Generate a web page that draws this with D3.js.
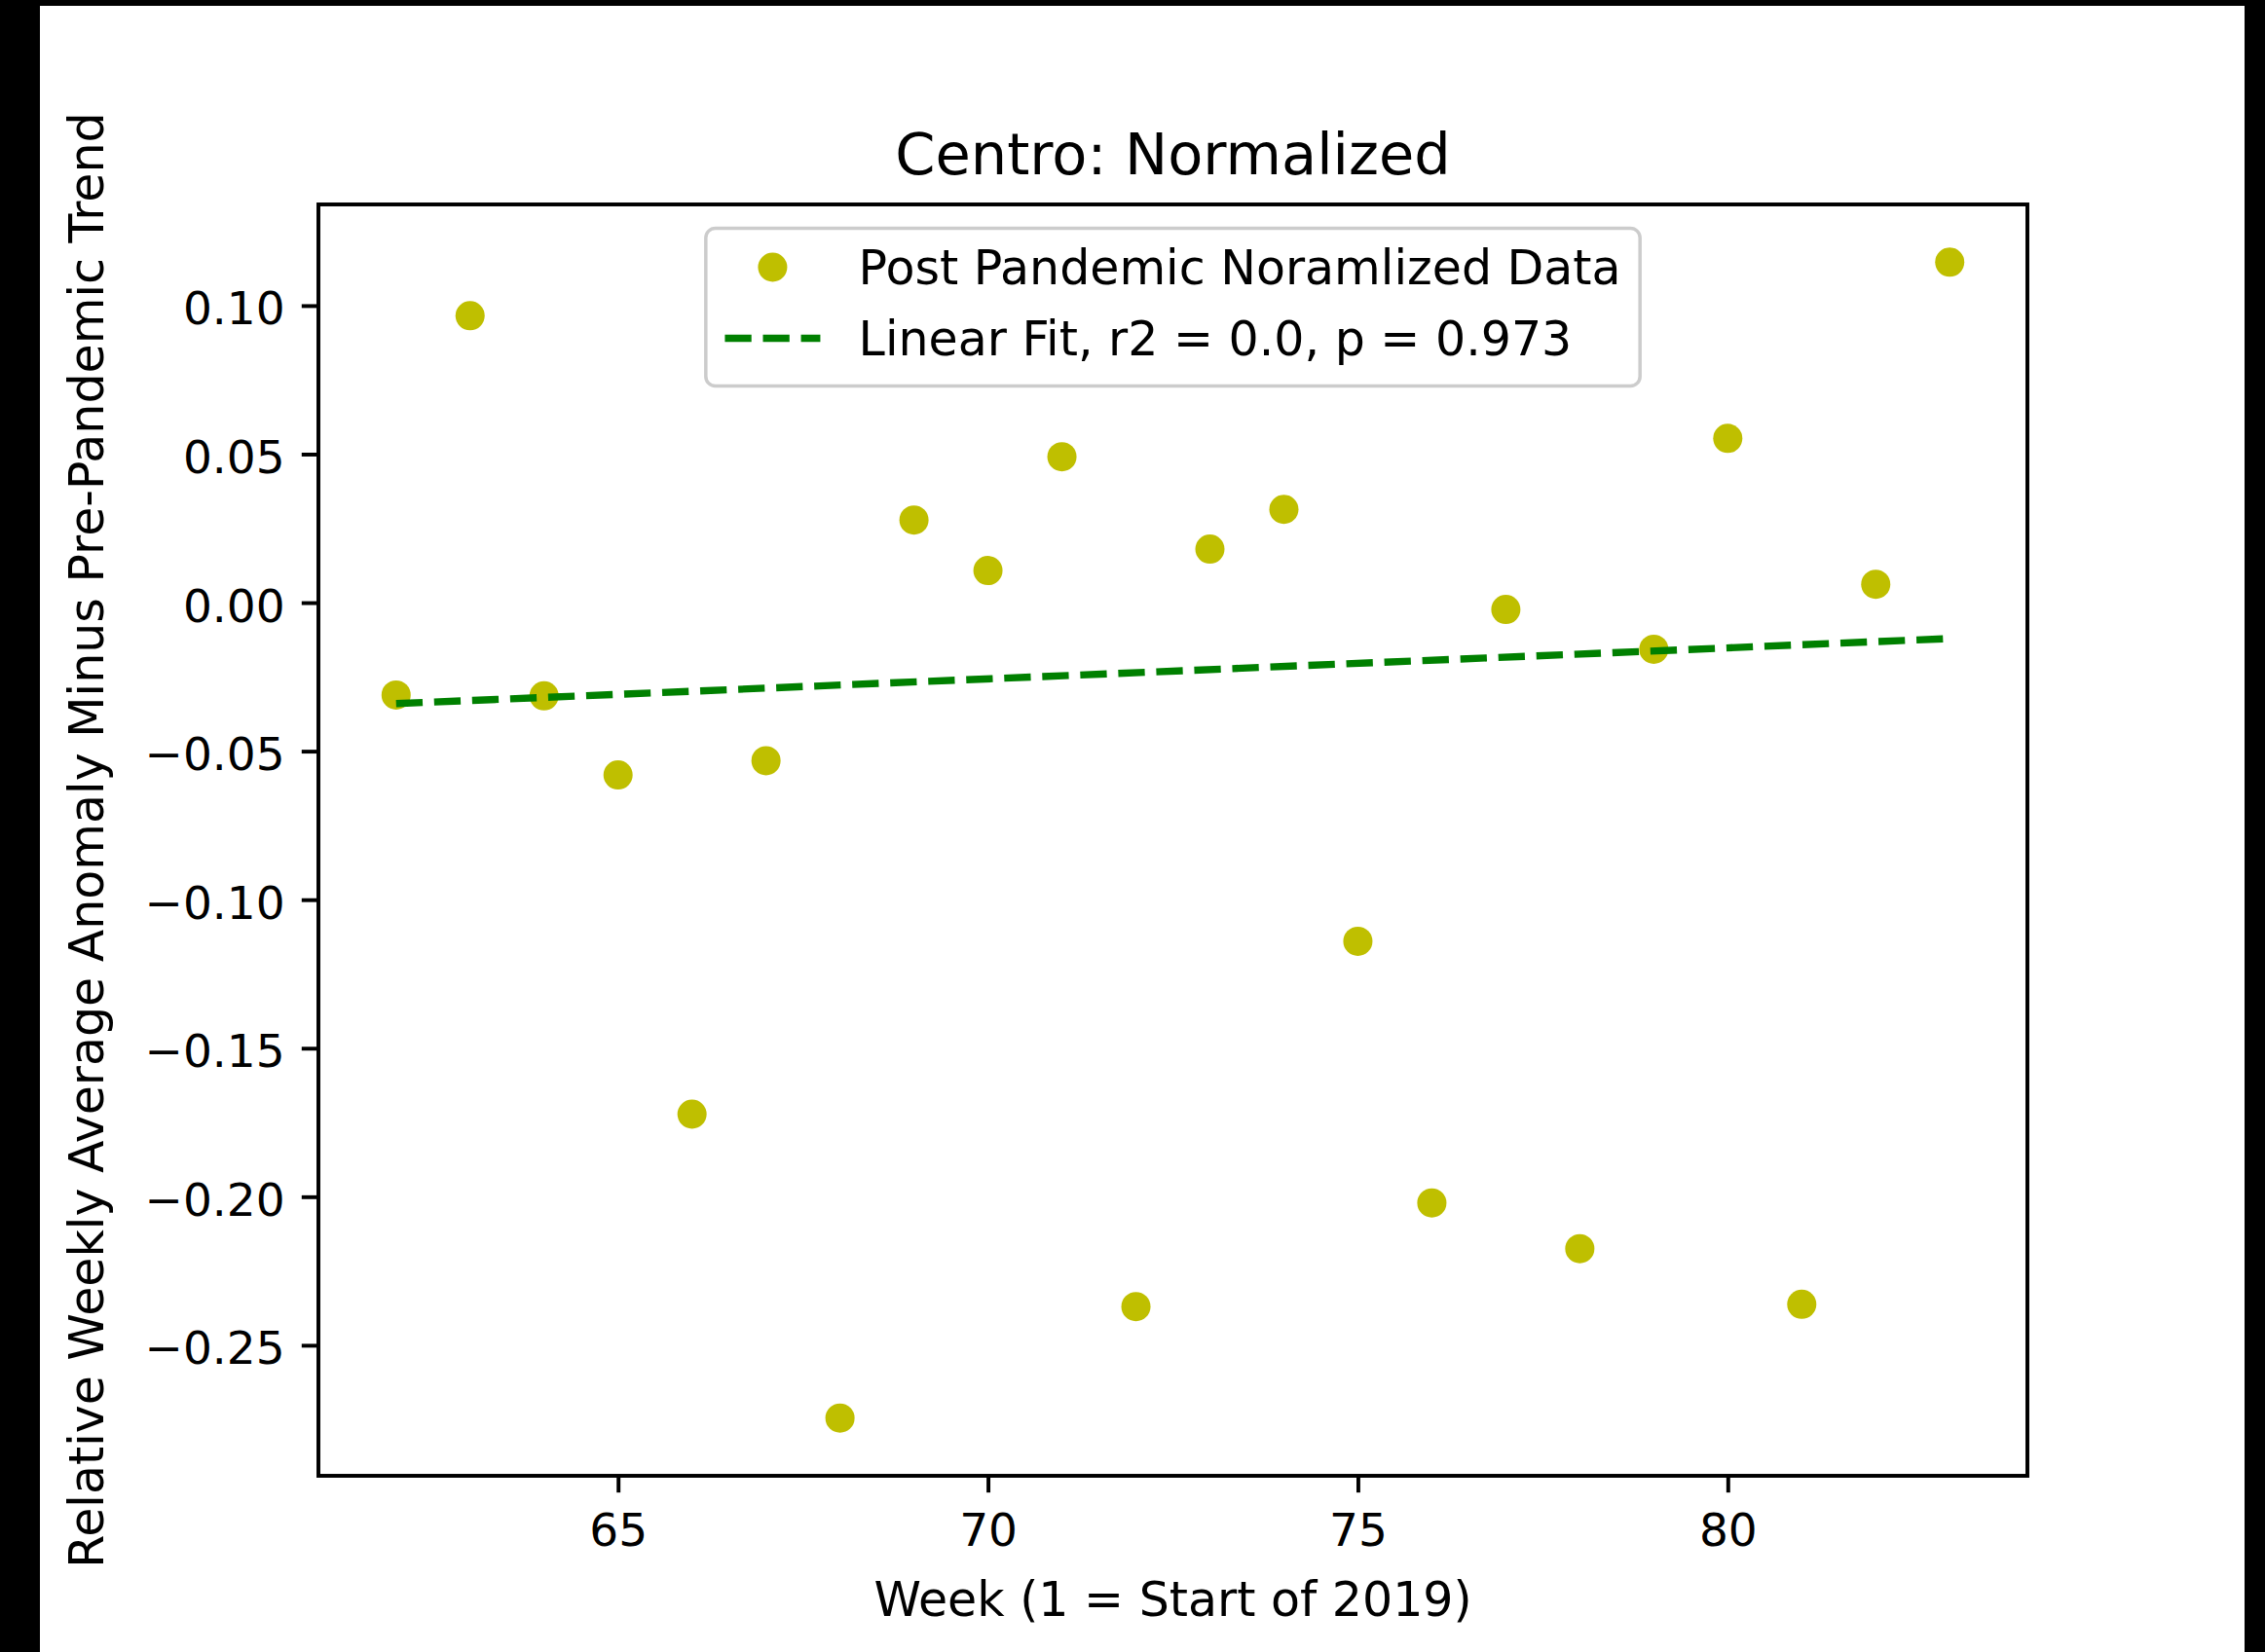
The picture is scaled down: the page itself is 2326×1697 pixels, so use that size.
<!DOCTYPE html>
<html>
<head>
<meta charset="utf-8">
<script src="https://cdn.jsdelivr.net/npm/d3@7"></script>
<style>
  html, body { margin: 0; padding: 0; background: #000; }
  svg { display: block; }
  text { font-family: "DejaVu Sans", sans-serif; fill: #000; }
</style>
</head>
<body>
<svg id="chart" width="2326" height="1697"></svg>
<script>
// ---- data ----
const weeks = [62, 63, 64, 65, 66, 67, 68, 69, 70, 71, 72, 73, 74, 75, 76, 77, 78, 79, 80, 81, 82, 83];
const values = [-0.0311, 0.0966, -0.0314, -0.0580, -0.1722, -0.0532, -0.2745, 0.0278, 0.0108, 0.0491,
                -0.2370, 0.0180, 0.0314, -0.1140, -0.2021, -0.0023, -0.2175, -0.0157, 0.0553, -0.2362,
                0.0062, 0.1146];
const fitWeeks = [62, 83];
const fitValues = [-0.0340, -0.0121];
const xTicks = [65, 70, 75, 80];
const yTicks = [0.10, 0.05, 0.00, -0.05, -0.10, -0.15, -0.20, -0.25];
const titleText = "Centro: Normalized";
const xLabelText = "Week (1 = Start of 2019)";
const yLabelText = "Relative Weekly Average Anomaly Minus Pre-Pandemic Trend";
const legendLabels = ["Post Pandemic Noramlized Data", "Linear Fit, r2 = 0.0, p = 0.973"];

// ---- layout ----
const svg = d3.select("#chart");
const W = 2326, H = 1697;
const plot = { left: 327, top: 210, width: 1755, height: 1306 };
const pt = 4.914; // px per point
const tickLen = 3.5 * pt, tickPad = 3.5 * pt;
const tickFont = 47, labelFont = 49, titleFont = 59;
const pointColor = "#bfbf00", fitColor = "#008000";

// white figure area with black borders
svg.append("rect").attr("x", 0).attr("y", 0).attr("width", W).attr("height", H).attr("fill", "#000");
svg.append("rect").attr("x", 41).attr("y", 6).attr("width", 2305 - 41).attr("height", H - 6).attr("fill", "#fff");

// scales (matplotlib 5% margins)
const xExt = d3.extent(weeks), yExt = d3.extent(values);
const xm = (xExt[1] - xExt[0]) * 0.05, ym = (yExt[1] - yExt[0]) * 0.05;
const x = d3.scaleLinear().domain([xExt[0] - xm, xExt[1] + xm]).range([0, plot.width]);
const y = d3.scaleLinear().domain([yExt[0] - ym, yExt[1] + ym]).range([plot.height, 0]);

const g = svg.append("g").attr("transform", `translate(${plot.left},${plot.top})`);

// clip
svg.append("clipPath").attr("id", "clip").append("rect")
  .attr("x", 0).attr("y", 0).attr("width", plot.width).attr("height", plot.height);
const inner = g.append("g").attr("clip-path", "url(#clip)");

// points
inner.selectAll("circle.pt").data(weeks.map((w, i) => [w, values[i]]))
  .enter().append("circle").attr("class", "pt")
  .attr("cx", d => x(d[0])).attr("cy", d => y(d[1]))
  .attr("r", 15).attr("fill", pointColor);

// linear fit
const line = d3.line().x(d => x(d[0])).y(d => y(d[1]));
inner.append("path").datum(fitWeeks.map((w, i) => [w, fitValues[i]]))
  .attr("d", line).attr("fill", "none").attr("stroke", fitColor)
  .attr("stroke-width", 1.5 * pt)
  .attr("stroke-dasharray", `${3.7 * 1.5 * pt},${1.6 * 1.5 * pt}`);

// x axis
const xAxis = d3.axisBottom(x).tickValues(xTicks).tickSizeInner(tickLen).tickSizeOuter(0)
  .tickPadding(tickPad).tickFormat(d3.format("d"));
const gx = g.append("g").attr("transform", `translate(0,${plot.height})`).call(xAxis);
gx.select(".domain").remove();
gx.selectAll(".tick line").attr("stroke", "#000").attr("stroke-width", 0.8 * pt);
gx.selectAll(".tick text").attr("font-size", tickFont).attr("y", 72).attr("dy", 0)
  .style("font-family", "DejaVu Sans");

// y axis
const yAxis = d3.axisLeft(y).tickValues(yTicks).tickSizeInner(tickLen).tickSizeOuter(0)
  .tickPadding(tickPad).tickFormat(d3.format(".2f"));
const gy = g.append("g").call(yAxis);
gy.select(".domain").remove();
gy.selectAll(".tick line").attr("stroke", "#000").attr("stroke-width", 0.8 * pt);
gy.selectAll(".tick text").attr("font-size", tickFont).attr("dy", 0).attr("y", 19)
  .attr("x", -(tickLen + tickPad)).style("font-family", "DejaVu Sans");

// frame
g.append("rect").attr("x", 0).attr("y", 0).attr("width", plot.width).attr("height", plot.height)
  .attr("fill", "none").attr("stroke", "#000").attr("stroke-width", 0.8 * pt);

// title
svg.append("text").attr("x", plot.left + plot.width / 2).attr("y", 179)
  .attr("text-anchor", "middle").attr("font-size", titleFont).text(titleText);

// x label
svg.append("text").attr("x", plot.left + plot.width / 2).attr("y", 1660)
  .attr("text-anchor", "middle").attr("font-size", labelFont).text(xLabelText);

// y label
svg.append("text").attr("transform", `translate(106,${plot.top + plot.height / 2}) rotate(-90)`)
  .attr("text-anchor", "middle").attr("font-size", labelFont).text(yLabelText);

// legend
const fs = labelFont;
const leg = g.append("g");
const legTexts = [];
legendLabels.forEach((lab, i) => {
  legTexts.push(leg.append("text").attr("font-size", fs).text(lab));
});
const textW = d3.max(legTexts, t => t.node().getComputedTextLength());
const borderPad = 0.4 * fs, handleLen = 2.0 * fs, handlePad = 0.8 * fs;
const boxW = borderPad * 2 + handleLen + handlePad + textW;
const boxH = 162;
const boxX = plot.width / 2 - boxW / 2;
const boxY = 0.5 * fs;
const rowY = [boxY + 40, boxY + 113];
leg.insert("rect", "text").attr("x", boxX).attr("y", boxY).attr("width", boxW).attr("height", boxH)
  .attr("rx", 0.2 * fs).attr("ry", 0.2 * fs)
  .attr("fill", "#fff").attr("fill-opacity", 0.8).attr("stroke", "#cccccc").attr("stroke-width", 3.5);
legTexts.forEach((t, i) => {
  t.attr("x", boxX + borderPad + handleLen + handlePad).attr("y", rowY[i] + 17);
});
leg.append("circle").attr("cx", boxX + borderPad + handleLen / 2).attr("cy", rowY[0])
  .attr("r", 15).attr("fill", pointColor);
leg.append("line").attr("x1", boxX + borderPad).attr("x2", boxX + borderPad + handleLen)
  .attr("y1", rowY[1]).attr("y2", rowY[1])
  .attr("stroke", fitColor).attr("stroke-width", 1.5 * pt)
  .attr("stroke-dasharray", `${3.7 * 1.5 * pt},${1.6 * 1.5 * pt}`);
</script>
</body>
</html>
